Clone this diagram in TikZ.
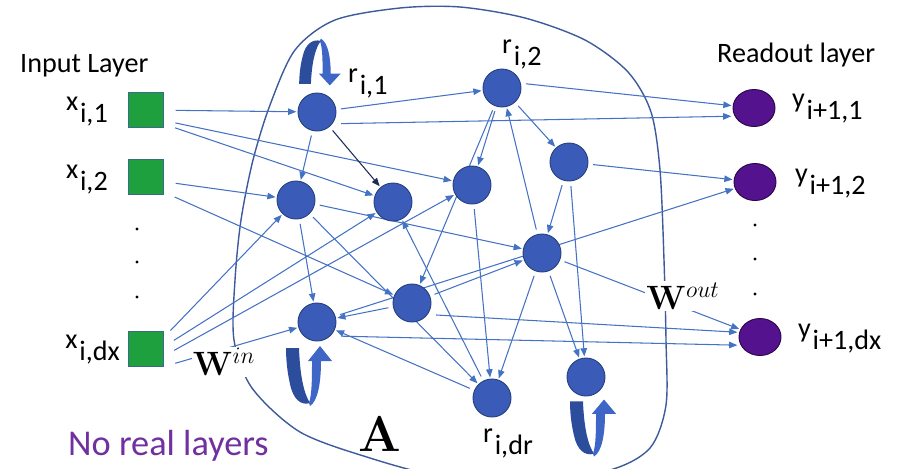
\RequirePackage{fix-cm}
\documentclass[tikz,border=0pt]{standalone}
\usepackage[no-math]{fontspec}
\setmainfont{Carlito}
\usetikzlibrary{arrows.meta,shapes.geometric,backgrounds}
\definecolor{ResFill}{HTML}{3A5CB8}
\definecolor{ResDraw}{HTML}{27427F}
\definecolor{LinkBlue}{HTML}{4472C4}
\definecolor{DarkLink}{HTML}{1E2B52}
\definecolor{BlobBlue}{HTML}{3D5B9C}
\definecolor{InGreen}{HTML}{1FA03F}
\definecolor{InDraw}{HTML}{3C6A8C}
\definecolor{OutPurple}{HTML}{55128F}
\definecolor{OutDraw}{HTML}{2A0848}
\definecolor{NoteViolet}{HTML}{7030A0}
\definecolor{LoopDark}{HTML}{2C4C9C}
\definecolor{LoopLight}{HTML}{3E66C6}
\newcommand{\sublbl}[2]{#1\hspace{1.5pt}\raisebox{-11pt}{#2}}

\begin{document}
\begin{tikzpicture}[x=0.03cm, y=-0.03cm,  % pixel grid, y downwards
  res/.style={circle, fill=ResFill, draw=ResDraw, line width=0.8pt, minimum size=1.14cm, inner sep=0pt},
  inp/.style={rectangle, fill=InGreen, draw=InDraw, line width=0.8pt, minimum size=1.05cm, inner sep=0pt},
  outp/.style={ellipse, fill=OutPurple, draw=OutDraw, line width=0.8pt, minimum width=1.26cm, minimum height=1.11cm, inner sep=0pt},
  link/.style={LinkBlue, line width=0.9pt, -{Triangle[length=7pt,width=5.5pt]}, shorten <=4pt, shorten >=1pt},
  lbl/.style={font=\fontsize{24}{28}\selectfont, inner sep=0pt},
  wlbl/.style={fill=white, inner sep=1pt, scale=1.2, font=\fontsize{24}{28}\selectfont},
  selfarrow/.pic={
    \fill[LoopDark] (-22,-28) -- (-9,-28) .. controls (-8,0) and (-4,18) .. (2,27)
      .. controls (-7,30) and (-15,23) .. (-18,8) .. controls (-21,-5) and (-22,-18) .. (-22,-28) -- cycle;
    \fill[LoopLight] (1,27) .. controls (4,18) and (4,2) .. (4,-15) -- (0,-15) -- (12,-30) -- (24,-15) -- (13,-15)
      .. controls (13,6) and (10,25) .. (2,30) -- cycle;
  }]
\useasboundingbox (0,0) rectangle (903,468);

% reservoir, input and readout units
\foreach \n/\px/\py in {1/317/112, 2/502/88, 3/296/200, 4/393/202, 5/472/185, 6/569/162,
                        7/542/253, 8/412/303, 9/317/322, 10/492/398, 11/586/377}
  \node[res] (r\n) at (\px,\py) {};
\node[inp] (x1) at (146,110) {};
\node[inp] (x2) at (146,177) {};
\node[inp] (xdx) at (146,349) {};
\node[outp] (y1) at (754,108) {};
\node[outp] (y2) at (755,182) {};
\node[outp] (ydx) at (760,337) {};

\begin{pgfonlayer}{background}
  \draw[BlobBlue, line width=1.2pt] plot[smooth cycle] coordinates {(252,388) (234,340) (235,280) (241,220)
    (253,160) (270,105) (295,50) (335,20) (400,8) (460,7) (525,18) (585,40) (628,72) (651,112) (660,170)
    (664,260) (666,340) (666,405) (650,448) (610,470) (530,482) (440,476) (370,458) (300,432)};
  % input weights
  \draw[link, shorten <=10pt] (x1) -- (r1);
  \draw[link, shorten <=10pt] ([yshift=-9pt]x1.east) -- (r5);
  \draw[link, shorten <=10pt] ([yshift=-12pt]x1.east) -- (r4);
  \draw[link, shorten <=10pt] ([yshift=-4pt]x2.east) -- (r3);
  \draw[link, shorten <=10pt] ([yshift=-13pt]x2.east) -- (r8);
  \draw[link, shorten <=8pt] ([yshift=10pt]xdx.east) -- (r3);
  \draw[link, shorten <=10pt] ([yshift=2pt]xdx.east) -- (r4);
  \draw[link, shorten <=10pt] ([yshift=-6pt]xdx.east) -- (r5);
  \draw[link, shorten <=10pt] ([yshift=-15pt]xdx.east) -- (r9);
  % reservoir links
  \foreach \a/\b in {1/2,1/3,2/5,2/6,2/8,7/2,3/9,3/10,3/7,5/10,6/7,6/11,7/10,7/11,8/7,8/9,10/9,10/4}
    \draw[link] (r\a) -- (r\b);
  \draw[link, DarkLink] (r1) -- (r4);
  % readout weights
  \draw[link] ([yshift=4pt]r2.east) -- (y1);
  \draw[link] ([yshift=-10pt]r1.east) -- ([yshift=-7pt]y1.west);
  \draw[link] (r6) -- (y2);
  \draw[link] (r9) -- (y2);
  \draw[link] (r7) -- (ydx);
  \draw[link] ([yshift=-10pt]r8.east) -- ([yshift=4pt]ydx.west);
  \draw[link] ([yshift=-12pt]r9.east) -- ([yshift=-7pt]ydx.west);
\end{pgfonlayer}

\path (319,62) pic[xscale=0.9, yscale=-0.78] {selfarrow};
\path (308,376) pic {selfarrow};
\path (592,428) pic[yscale=0.95] {selfarrow};

\foreach \yy in {229,262,297} \fill (137,\yy) circle (1.3pt);
\foreach \yy in {225,259,294} \fill (755,\yy) circle (1.3pt);

\node[lbl, anchor=base west] (inlayer) at (20,72) {Input Layer};
\node[lbl, anchor=base west] (outlayer) at (717,62) {Readout layer};
\node[lbl, anchor=base east] (lx1) at (108,110) {\sublbl{x}{i,1}};
\node[lbl, anchor=base east] (lx2) at (108,178) {\sublbl{x}{i,2}};
\node[lbl, anchor=base east] (lxdx) at (120,348) {\sublbl{x}{i,dx}};
\node[lbl, anchor=base west] (lr1) at (348,82) {\sublbl{r}{i,1}};
\node[lbl, anchor=base west] (lr2) at (502,53) {\sublbl{r}{i,2}};
\node[lbl, anchor=base west] (lrdr) at (483,442) {\sublbl{r}{i,dr}};
\node[lbl, anchor=base west] (ly1) at (792,107) {\sublbl{y}{i+1,1}};
\node[lbl, anchor=base west] (ly2) at (795,182) {\sublbl{y}{i+1,2}};
\node[lbl, anchor=base west] (lydx) at (798,337) {\sublbl{y}{i+1,dx}};
\node[wlbl] (win) at (224,362) {$\mathbf{W}^{in}$};
\node[wlbl] (wout) at (683,296) {$\mathbf{W}^{out}$};
\node[scale=1.3, font=\fontsize{33}{38}\selectfont] (amat) at (380,434) {$\mathbf{A}$};
\node[anchor=base west, inner sep=0pt, text=NoteViolet, font=\fontsize{31}{36}\selectfont] (nolayers) at (68,455) {No real layers};
\end{tikzpicture}
\end{document}
